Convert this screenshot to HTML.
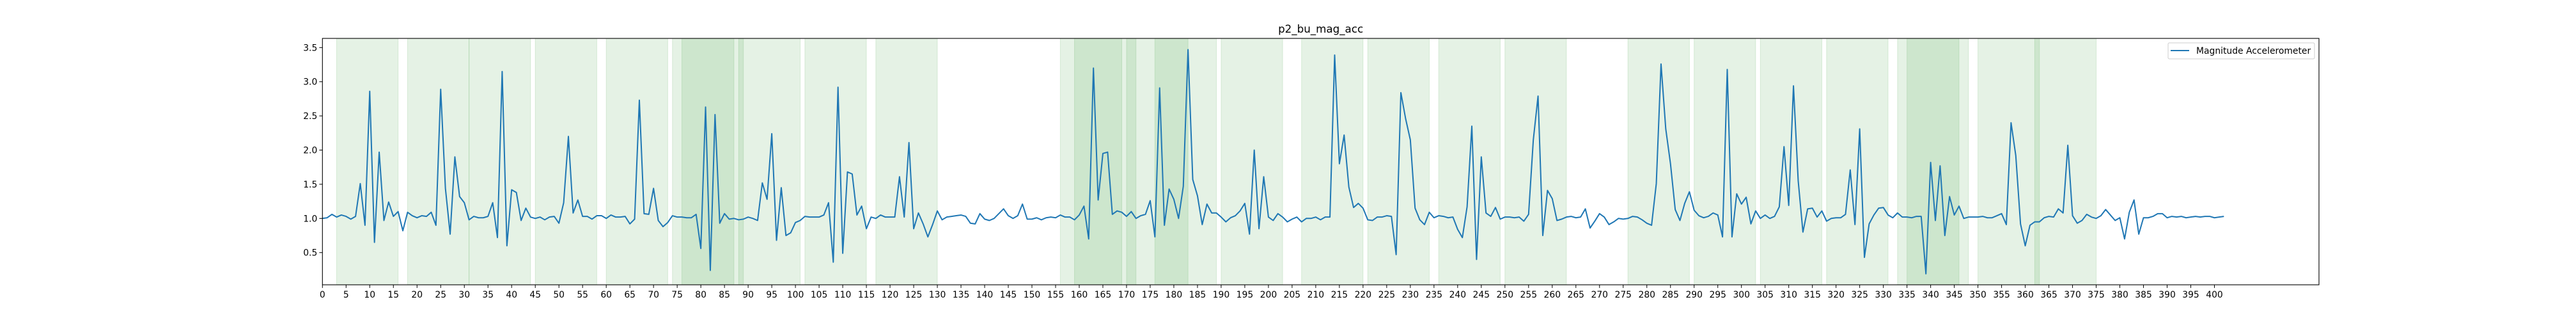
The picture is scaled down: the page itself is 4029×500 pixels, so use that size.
<!DOCTYPE html>
<html><head><meta charset="utf-8"><style>
html,body{margin:0;padding:0;background:#fff;}
svg{display:block;font-family:"DejaVu Sans","Liberation Sans",sans-serif;}
</style></head><body>
<svg id="chart" width="4029" height="500" viewBox="0 0 4029 500" xmlns="http://www.w3.org/2000/svg">
<rect x="0" y="0" width="4029" height="500" fill="#fff"/>
<g id="spans"></g>
<g id="grid"></g>
<g id="series"></g>
<rect x="504.3" y="60" width="3122.7" height="385" fill="none" stroke="#000" stroke-width="1.1"/>
<text x="2065.6" y="51" font-size="16.7" text-anchor="middle">p2_bu_mag_acc</text>
<g>
<rect x="3391" y="67" width="229" height="25" rx="2" fill="#fff" fill-opacity="0.8" stroke="#ccc"/>
<line x1="3395" y1="79" x2="3424" y2="79" stroke="#1f77b4" stroke-width="2"/>
<text x="3435" y="84" font-size="13.9">Magnitude Accelerometer</text>
</g>
</svg>
<script>
const values = [1.00,1.01,1.06,1.02,1.05,1.03,0.99,1.03,1.51,0.90,2.86,0.65,1.97,0.97,1.24,1.03,1.10,0.82,1.09,1.04,
1.01,1.04,1.03,1.09,0.90,2.89,1.44,0.77,1.90,1.32,1.23,0.98,1.03,1.01,1.01,1.03,1.23,0.72,3.15,0.60,
1.42,1.38,0.97,1.15,1.02,1.00,1.02,0.98,1.02,1.03,0.93,1.23,2.20,1.08,1.27,1.03,1.03,0.99,1.04,1.04,
1.00,1.05,1.02,1.02,1.03,0.92,0.99,2.73,1.07,1.06,1.44,0.97,0.88,0.94,1.04,1.02,1.02,1.01,1.01,1.06,
0.56,2.63,0.24,2.52,0.93,1.07,0.99,1.00,0.98,0.99,1.02,1.00,0.97,1.52,1.28,2.24,0.68,1.45,0.75,0.79,
0.94,0.97,1.03,1.02,1.02,1.02,1.05,1.23,0.36,2.92,0.49,1.68,1.65,1.05,1.18,0.85,1.02,1.00,1.05,1.02,
1.02,1.02,1.61,1.02,2.11,0.85,1.08,0.92,0.73,0.91,1.11,0.98,1.02,1.03,1.04,1.05,1.03,0.93,0.92,1.07,
0.99,0.97,1.00,1.07,1.14,1.04,1.00,1.04,1.21,0.99,0.99,1.01,0.98,1.01,1.02,1.01,1.05,1.02,1.02,0.98,
1.05,1.18,0.70,3.20,1.27,1.95,1.97,1.06,1.11,1.09,1.03,1.10,1.00,1.04,1.06,1.26,0.73,2.91,0.90,1.43,
1.28,1.00,1.47,3.47,1.57,1.33,0.91,1.21,1.08,1.08,1.02,0.95,1.01,1.04,1.11,1.22,0.77,2.00,0.85,1.61,
1.02,0.97,1.07,1.02,0.95,0.99,1.02,0.95,1.00,1.00,1.02,0.98,1.02,1.02,3.39,1.80,2.22,1.46,1.16,1.22,
1.15,0.98,0.97,1.02,1.02,1.04,1.03,0.47,2.84,2.46,2.15,1.15,0.98,0.91,1.09,1.01,1.04,1.03,1.01,1.02,
0.84,0.72,1.17,2.35,0.40,1.90,1.08,1.03,1.16,0.99,1.02,1.02,1.01,1.02,0.96,1.06,2.15,2.79,0.75,1.41,
1.29,0.97,0.99,1.02,1.03,1.01,1.02,1.14,0.86,0.96,1.07,1.02,0.91,0.95,1.00,0.99,1.00,1.03,1.02,0.98,
0.93,0.90,1.51,3.26,2.31,1.80,1.13,0.97,1.22,1.39,1.12,1.04,1.01,1.03,1.08,1.05,0.73,3.18,0.73,1.36,
1.21,1.31,0.92,1.11,1.00,1.05,1.00,1.03,1.17,2.05,1.19,2.94,1.55,0.80,1.14,1.15,1.02,1.11,0.96,1.00,
1.01,1.01,1.06,1.71,0.91,2.31,0.43,0.92,1.05,1.15,1.16,1.05,1.01,1.08,1.02,1.02,1.01,1.03,1.03,0.19,
1.82,0.97,1.77,0.75,1.32,1.05,1.18,1.00,1.02,1.02,1.02,1.03,1.01,1.01,1.04,1.07,0.91,2.40,1.92,0.92,
0.60,0.90,0.95,0.95,1.01,1.03,1.02,1.14,1.08,2.07,1.04,0.93,0.97,1.06,1.02,1.00,1.04,1.13,1.05,0.97,
1.01,0.70,1.09,1.27,0.77,1.01,1.01,1.03,1.07,1.07,1.01,1.03,1.02,1.03,1.01,1.02,1.03,1.02,1.03,1.03,
1.01,1.02,1.03];
const spanStarts = [3,18,31,45,60,74,76,88,102,117,156,159,170,176,190,207,221,236,250,276,290,304,318,333,335,350,362];
const spanEnds   = [16,31,44,58,73,87,89,101,115,130,169,172,183,189,203,220,234,249,263,289,303,317,331,346,348,363,375];
const xTickLabels = Array.from({length:81},(_,k)=>String(k*5));
const yTickLabels = ["0.5","1.0","1.5","2.0","2.5","3.0","3.5"];

const NS="http://www.w3.org/2000/svg";
const L=504.3,R=3627,T=60,B=445;
const XMIN=0,XMAX=422.1,YMIN=0.029,YMAX=3.634;
const xs=v=>L+(v-XMIN)/(XMAX-XMIN)*(R-L);
const ys=v=>B-(v-YMIN)/(YMAX-YMIN)*(B-T);
function mk(tag,attrs,parent){const e=document.createElementNS(NS,tag);for(const k in attrs)e.setAttribute(k,attrs[k]);parent.appendChild(e);return e;}

const sg=document.getElementById('spans');
for(let i=0;i<spanStarts.length;i++){
  const r=mk('rect',{x:xs(spanStarts[i]),y:T,width:xs(spanEnds[i])-xs(spanStarts[i]),height:B-T,fill:'green','fill-opacity':0.1,stroke:'green','stroke-opacity':0.12,'stroke-width':1},sg);
  
  
}
const gg=document.getElementById('grid');
xTickLabels.forEach(t=>{
  const x=xs(parseFloat(t));
  const l=mk('line',{x1:x,y1:B,x2:x,y2:B+4.9,stroke:'#000','stroke-width':1},gg);
  
  
  const tx=mk('text',{x:x,y:B+20,'font-size':13.9,'text-anchor':'middle'},gg);
  tx.textContent=t;
  
  
});
yTickLabels.forEach(t=>{
  const y=ys(parseFloat(t));
  const l=mk('line',{x1:L-4.9,y1:y,x2:L,y2:y,stroke:'#000','stroke-width':1},gg);
  
  
  const tx=mk('text',{x:L-8,y:y+5,'font-size':13.9,'text-anchor':'end'},gg);
  tx.textContent=t;
  
  
});
const pts=values.map((v,i)=>xs(i).toFixed(2)+','+ys(v).toFixed(2)).join(' ');
const pl=mk('polyline',{points:pts,fill:'none',stroke:'#1f77b4','stroke-width':2,'stroke-linejoin':'round'},document.getElementById('series'));


</script>
</body></html>
